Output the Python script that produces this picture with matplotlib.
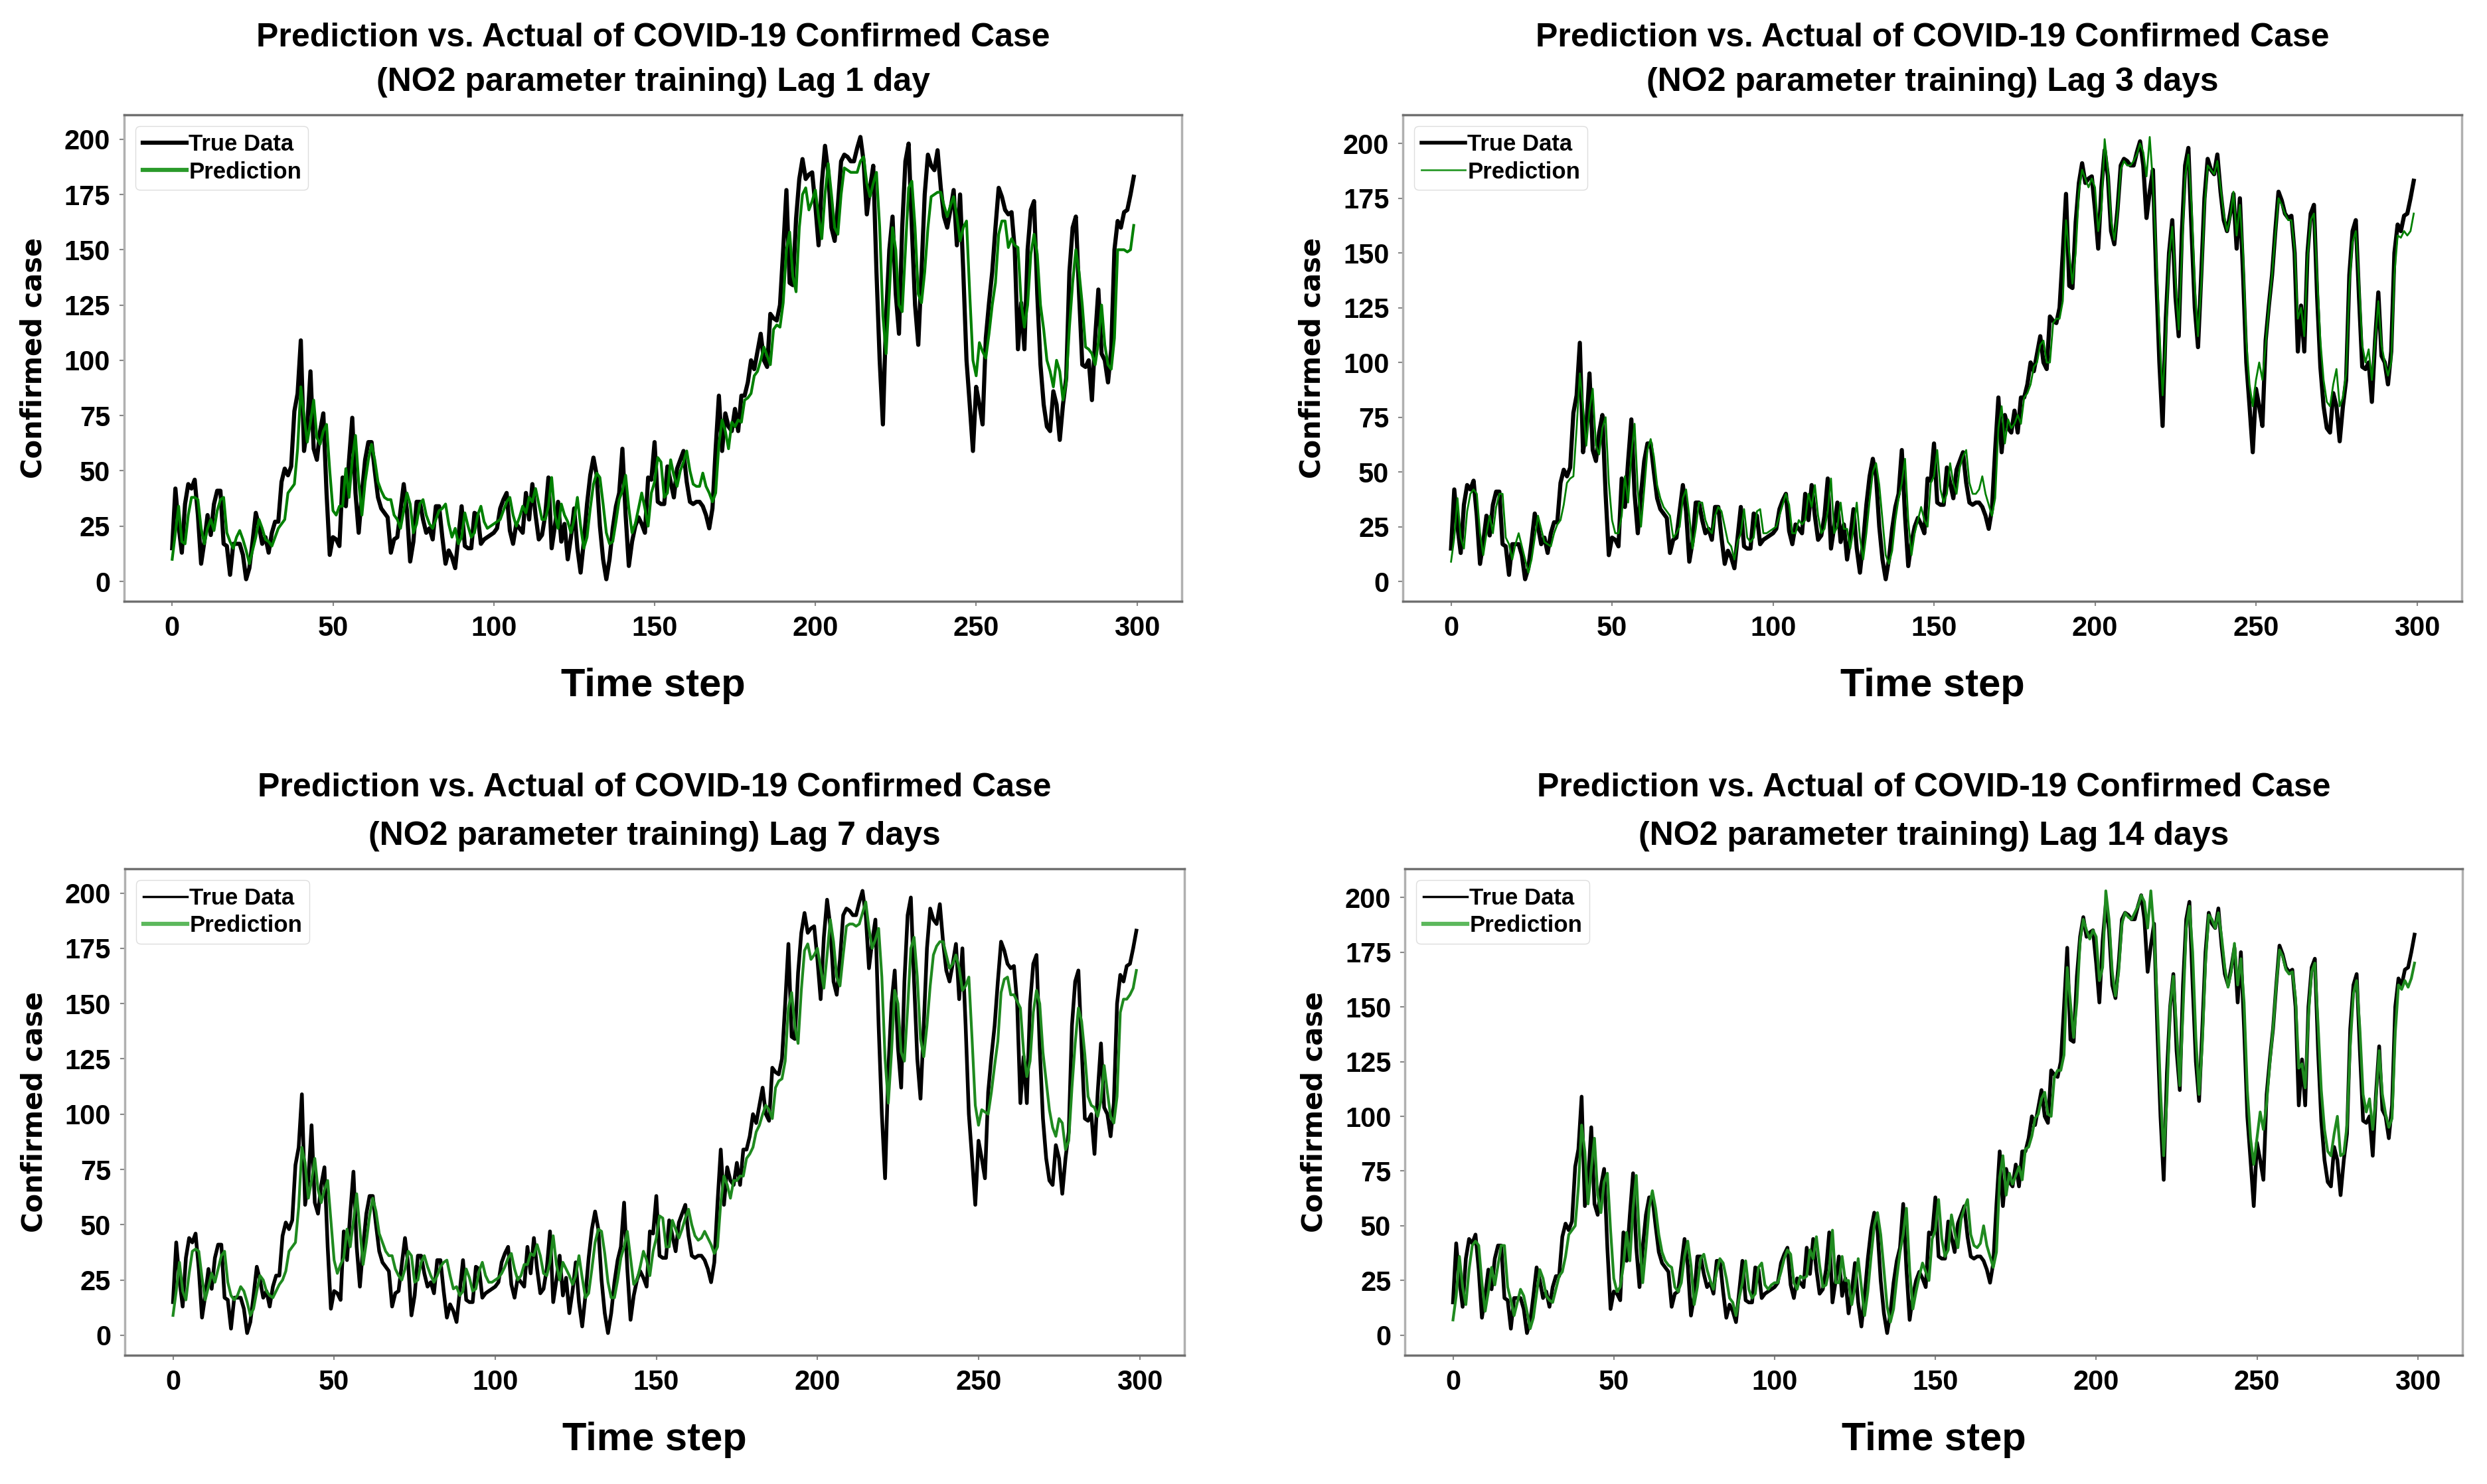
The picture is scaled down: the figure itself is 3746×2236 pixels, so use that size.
import matplotlib.pyplot as plt

# true confirmed cases (same for all four panels), one value per time step
true_data = [
    15, 42, 25, 13, 35, 44, 42, 46, 30, 8,
    18, 30, 21, 35, 41, 41, 17, 16, 3, 17,
    17, 17, 12, 1, 6, 18, 31, 25, 17, 20,
    13, 22, 27, 27, 45, 51, 48, 52, 77, 85,
    109, 59, 70, 95, 60, 55, 68, 76, 40, 12,
    20, 19, 16, 47, 34, 55, 74, 40, 22, 40,
    55, 63, 63, 50, 38, 33, 31, 29, 13, 19,
    20, 32, 44, 32, 9, 18, 36, 36, 28, 22,
    24, 19, 34, 34, 20, 8, 14, 11, 6, 20,
    34, 16, 15, 15, 31, 30, 17, 19, 20, 21,
    22, 24, 33, 37, 40, 23, 17, 26, 24, 22,
    40, 28, 44, 30, 19, 21, 30, 47, 15, 25,
    36, 18, 26, 10, 20, 33, 15, 4, 18, 35,
    48, 56, 48, 25, 10, 1, 10, 24, 34, 40,
    60, 30, 7, 18, 25, 29, 26, 22, 47, 46,
    63, 36, 35, 35, 52, 45, 38, 51, 55, 59,
    45, 36, 35, 36, 36, 34, 30, 24, 33, 60,
    84, 59, 76, 70, 68, 78, 68, 84, 84, 90,
    100, 96, 104, 112, 100, 97, 121, 119, 118, 125,
    150, 177, 135, 134, 164, 182, 191, 182, 184, 185,
    170, 152, 180, 197, 185, 160, 154, 170, 190, 193,
    192, 190, 190, 196, 201, 190, 166, 178, 188, 140,
    100, 71, 120, 150, 165, 130, 112, 160, 190, 198,
    160, 125, 107, 140, 175, 193, 188, 186, 195, 178,
    165, 160, 168, 177, 152, 175, 140, 100, 80, 59,
    88, 80, 71, 110, 126, 140, 160, 178, 174, 168,
    166, 167, 150, 105, 126, 105, 150, 168, 172, 130,
    98, 80, 70, 68, 86, 80, 64, 80, 92, 140,
    160, 165, 130, 98, 97, 100, 82, 110, 132, 103,
    100, 90, 105, 150, 163, 160, 167, 168, 175, 183,
]

pred_lag1 = [
    10, 22, 34, 18, 17, 30, 38, 38, 37, 24,
    17, 24, 28, 23, 32, 37, 38, 22, 18, 15,
    20, 23, 19, 14, 8, 14, 20, 28, 24, 19,
    18, 16, 20, 24, 26, 28, 40, 42, 44, 60,
    88, 75, 63, 72, 82, 65, 62, 68, 71, 50,
    32, 30, 34, 34, 51, 38, 55, 66, 45, 30,
    45, 55, 62, 55, 45, 41, 38, 37, 37, 30,
    28, 24, 32, 40, 35, 22, 26, 35, 37, 30,
    26, 24, 28, 32, 33, 35, 26, 20, 24, 17,
    20, 31, 25, 20, 22, 30, 34, 27, 24, 25,
    26, 27, 28, 32, 36, 38, 30, 25, 29, 34,
    31, 38, 36, 42, 35, 28, 28, 34, 47, 30,
    24, 35, 30, 27, 22, 28, 38, 25, 15, 20,
    33, 44, 49, 47, 35, 22, 17, 18, 27, 37,
    41, 48, 33, 22, 26, 33, 40, 33, 25, 40,
    45, 56, 54, 38, 40, 55, 48, 43, 50, 54,
    59, 50, 44, 43, 43, 49, 43, 40, 36, 40,
    62, 73, 68, 60, 72, 70, 73, 72, 82, 83,
    85, 93, 95, 100, 106, 102, 98, 114, 116, 115,
    126, 150, 158, 138, 131, 160, 175, 178, 168, 172,
    177, 165, 155, 175, 189, 175, 160, 157, 175, 187,
    186, 185, 185, 185, 190, 192, 180, 174, 180, 185,
    160, 120, 103, 130, 160, 150, 125, 122, 150, 178,
    181, 160, 130, 126, 140, 160, 174, 175, 176, 176,
    170, 165, 170, 174, 165, 154, 160, 163, 130, 100,
    93, 108, 104, 101, 112, 125, 135, 157, 163, 163,
    151, 155, 152, 151, 126, 115, 125, 148, 157, 148,
    125, 114, 100, 95, 88, 100, 95, 82, 90, 115,
    135, 150, 140, 125, 106, 105, 103, 98, 108, 125,
    107, 98, 96, 110, 150, 150, 150, 149, 150, 161,
]

pred_lag3 = [
    9, 20, 38, 20, 15, 32, 40, 42, 40, 22,
    12, 22, 30, 22, 34, 40, 40, 20, 17, 10,
    17, 22, 16, 10, 4, 10, 20, 30, 24, 18,
    17, 16, 22, 26, 28, 35, 45, 47, 48, 70,
    95, 80, 62, 78, 88, 62, 58, 70, 75, 45,
    28, 22, 22, 30, 48, 36, 58, 72, 42, 25,
    42, 60, 65, 57, 44, 38, 34, 32, 30, 20,
    22, 25, 38, 42, 30, 15, 24, 36, 36, 28,
    24, 22, 30, 34, 32, 25, 18, 16, 10, 18,
    22, 33, 20, 18, 20, 32, 33, 22, 22, 23,
    24, 25, 30, 35, 40, 35, 22, 22, 28, 26,
    28, 40, 34, 44, 30, 22, 24, 32, 47, 22,
    25, 36, 24, 24, 15, 24, 36, 20, 10, 22,
    37, 50, 54, 44, 28, 12, 8, 14, 28, 38,
    45, 56, 28, 12, 22, 28, 34, 28, 25, 45,
    48, 60, 42, 36, 40, 54, 45, 40, 52, 57,
    60, 45, 40, 40, 42, 48, 40, 35, 30, 38,
    70, 80, 63, 74, 70, 72, 76, 72, 84, 86,
    90, 98, 100, 108, 110, 100, 100, 118, 120, 120,
    128, 165, 150, 136, 150, 178, 188, 184, 180, 184,
    180, 160, 170, 202, 188, 165, 156, 168, 188, 192,
    190, 190, 192, 195, 200, 196, 185, 203, 182, 150,
    115, 85, 110, 148, 162, 138, 115, 150, 185, 195,
    172, 135, 112, 135, 170, 190, 188, 186, 192, 180,
    168, 160, 166, 178, 158, 172, 150, 110, 90, 80,
    92, 100, 92, 108, 125, 140, 158, 175, 172, 168,
    165, 165, 152, 120, 125, 112, 148, 165, 168, 140,
    110, 92, 82, 80, 90, 97, 80, 84, 95, 135,
    155, 160, 138, 108, 100, 106, 92, 110, 128, 108,
    100, 94, 100, 140, 158, 157, 160, 158, 160, 168,
]

pred_lag7 = [
    9, 20, 33, 20, 16, 28, 38, 39, 38, 26,
    16, 22, 28, 24, 30, 36, 38, 24, 18, 16,
    18, 22, 20, 15, 9, 12, 20, 27, 25, 20,
    18, 17, 20, 23, 25, 29, 38, 40, 42, 58,
    85, 78, 62, 70, 80, 66, 60, 66, 70, 52,
    34, 28, 32, 35, 48, 40, 52, 64, 48, 32,
    42, 54, 62, 56, 46, 42, 38, 36, 36, 30,
    27, 25, 30, 38, 36, 24, 25, 33, 36, 31,
    27, 24, 27, 31, 33, 34, 27, 21, 22, 18,
    20, 30, 26, 20, 21, 29, 33, 27, 24, 24,
    25, 26, 28, 31, 35, 37, 30, 25, 27, 32,
    32, 37, 36, 41, 36, 28, 27, 33, 45, 32,
    25, 33, 30, 27, 23, 27, 36, 26, 17, 19,
    30, 42, 48, 47, 37, 24, 17, 17, 25, 35,
    40, 47, 35, 23, 25, 31, 38, 34, 27, 38,
    44, 54, 53, 40, 40, 52, 48, 44, 48, 53,
    57, 50, 45, 43, 44, 47, 44, 41, 37, 40,
    60, 72, 68, 62, 70, 70, 72, 72, 80, 82,
    85, 92, 95, 100, 104, 102, 98, 112, 115, 116,
    124, 148, 155, 140, 132, 156, 174, 177, 170, 172,
    175, 166, 157, 172, 188, 178, 162, 158, 172, 185,
    186, 186, 185, 186, 191, 196, 184, 175, 179, 184,
    162, 125, 105, 128, 156, 150, 128, 124, 148, 175,
    180, 162, 134, 126, 140, 158, 172, 176, 178, 178,
    172, 166, 168, 172, 166, 156, 158, 162, 134, 104,
    95, 102, 101, 100, 110, 122, 133, 155, 161, 162,
    154, 154, 151, 148, 128, 117, 124, 146, 156, 150,
    128, 115, 102, 94, 90, 98, 96, 84, 88, 112,
    132, 148, 142, 127, 108, 104, 103, 99, 106, 122,
    110, 99, 96, 108, 146, 152, 152, 154, 157, 165,
]

pred_lag14 = [
    7, 18, 36, 22, 14, 30, 41, 43, 41, 24,
    11, 20, 31, 23, 32, 41, 41, 22, 16, 9,
    15, 21, 18, 11, 3, 8, 19, 30, 26, 18,
    16, 15, 21, 27, 29, 36, 46, 48, 50, 68,
    96, 84, 60, 76, 90, 64, 56, 70, 74, 48,
    26, 20, 22, 32, 47, 34, 58, 73, 44, 24,
    40, 58, 66, 58, 46, 38, 34, 32, 31, 22,
    20, 24, 36, 43, 32, 14, 22, 35, 37, 30,
    25, 21, 29, 35, 33, 26, 17, 15, 9, 17,
    24, 34, 21, 17, 19, 31, 33, 23, 21, 23,
    24, 24, 29, 35, 39, 37, 24, 21, 27, 26,
    27, 39, 35, 45, 32, 22, 23, 30, 48, 24,
    24, 36, 25, 25, 14, 22, 35, 22, 9, 20,
    36, 50, 56, 46, 30, 13, 6, 12, 26, 38,
    46, 58, 30, 12, 20, 27, 33, 29, 25, 44,
    48, 62, 44, 36, 39, 55, 47, 40, 53, 58,
    62, 46, 41, 40, 42, 50, 41, 36, 31, 38,
    72, 82, 64, 74, 69, 73, 77, 71, 85, 86,
    91, 99, 101, 108, 111, 101, 100, 118, 121, 121,
    128, 168, 152, 136, 152, 180, 190, 185, 181, 185,
    182, 162, 168, 203, 190, 166, 155, 166, 188, 193,
    191, 190, 193, 196, 201, 198, 186, 203, 184, 152,
    112, 82, 108, 150, 164, 140, 114, 148, 186, 196,
    175, 136, 110, 133, 170, 192, 190, 186, 193, 182,
    168, 159, 166, 179, 160, 172, 152, 112, 90, 78,
    90, 102, 94, 106, 124, 140, 160, 176, 173, 167,
    165, 166, 154, 122, 124, 113, 146, 166, 170, 142,
    112, 94, 84, 82, 92, 100, 82, 83, 96, 132,
    156, 162, 140, 110, 102, 108, 94, 108, 130, 110,
    101, 95, 99, 138, 160, 158, 162, 159, 163, 170,
]

lag_labels = ["Lag 1 day", "Lag 3 days", "Lag 7 days", "Lag 14 days"]
predictions = [pred_lag1, pred_lag3, pred_lag7, pred_lag14]
x_ticks = [0, 50, 100, 150, 200, 250, 300]
y_ticks = [0, 25, 50, 75, 100, 125, 150, 175, 200]

steps = list(range(len(true_data)))

# axes rectangles (left, bottom, width, height) in figure fractions
rects = [
    [0.0499, 0.5948, 0.4253, 0.3278],
    [0.5641, 0.5948, 0.4258, 0.3278],
    [0.0502, 0.0868, 0.4261, 0.3278],
    [0.5649, 0.0868, 0.4253, 0.3278],
]
# (true lw, pred lw, pred colour, legend true lw, legend pred lw, legend pred colour)
line_styles = [
    (4.5, 3.0, 'green', 4.5, 4.5, '#2a9a2a'),
    (4.5, 2.0, 'green', 4.0, 2.0, '#2a9a2a'),
    (4.0, 3.0, '#1f8a1f', 2.5, 4.5, '#5cb85c'),
    (4.0, 3.0, '#1f8a1f', 2.5, 4.5, '#5cb85c'),
]
title_spacing = [1.58, 1.58, 1.74, 1.74]

fig = plt.figure(figsize=(37.46, 22.36), dpi=100)

for i in range(4):
    ax = fig.add_axes(rects[i])
    lw_t, lw_p, col_p, leg_t, leg_p, leg_col = line_styles[i]
    ax.plot(steps, true_data, color='black', lw=lw_t, label='True Data')
    ax.plot(steps, predictions[i], color=col_p, lw=lw_p, label='Prediction')

    ax.set_title("Prediction vs. Actual of COVID-19 Confirmed Case\n(NO2 parameter training) " + lag_labels[i],
                 fontsize=36, fontweight='bold', family='Liberation Sans',
                 linespacing=title_spacing[i], pad=26)
    ax.set_xlabel('Time step', fontsize=43, fontweight='bold', family='Liberation Sans', labelpad=28)
    ax.set_ylabel('Confirmed case', fontsize=30, fontweight='bold', family='DejaVu Sans', labelpad=18)

    ax.set_xticks(x_ticks)
    ax.set_yticks(y_ticks)
    ax.tick_params(length=5, width=1.5, color='#888888', pad=10)
    for lab in ax.get_xticklabels() + ax.get_yticklabels():
        lab.set_fontsize(30)
        lab.set_fontweight('bold')
        lab.set_family('Liberation Sans')

    for side in ['left', 'right']:
        ax.spines[side].set_color('#b0b0b0')
        ax.spines[side].set_linewidth(2.5)
    for side in ['top', 'bottom']:
        ax.spines[side].set_color('#707070')
        ax.spines[side].set_linewidth(2.5)

    leg = ax.legend(loc='upper left', handlelength=1.9, handletextpad=0.1,
                    labelspacing=0.25, borderpad=0.3,
                    prop={'family': 'Liberation Sans', 'weight': 'bold', 'size': 25},
                    edgecolor='#dddddd', framealpha=1.0)
    leg_lines = leg.get_lines()
    leg_lines[0].set_linewidth(leg_t)
    leg_lines[1].set_linewidth(leg_p)
    leg_lines[1].set_color(leg_col)

fig.savefig('out.png', dpi=100)
